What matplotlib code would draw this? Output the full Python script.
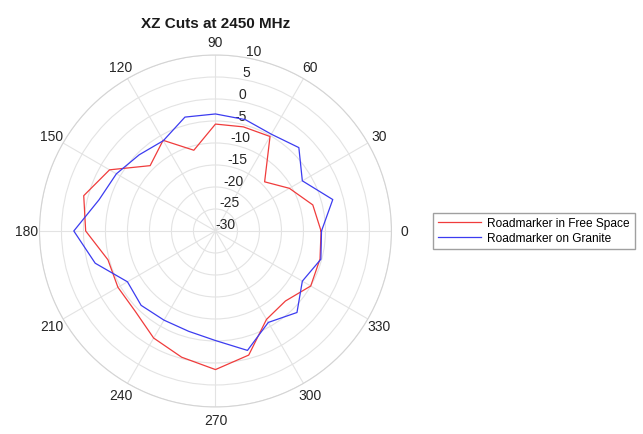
import numpy as np
import matplotlib
matplotlib.use("Agg")
import matplotlib.pyplot as plt

plt.rcParams['font.family'] = ['Liberation Sans', 'DejaVu Sans']

# angles in degrees, gain in dB
angles = [0, 15, 30, 45, 60, 75, 90, 105, 120, 135, 150, 165, 180,
          195, 210, 225, 240, 255, 270, 285, 300, 315, 330, 345, 360]
free_space = [-6.0, -7.1, -10.6, -14.2, -5.2, -5.5, -5.7, -11.0, -6.2, -9.0, -2.2, 1.0, -0.5,
              -4.7, -4.4, -4.2, -1.9, -0.3, 1.5, -0.8, -6.8, -7.5, -5.0, -5.4, -6.0]
granite = [-5.9, -2.4, -7.2, -3.2, -4.6, -3.8, -3.4, -3.2, -6.3, -5.5, -4.0, -2.6, 2.2,
           -1.7, -6.9, -6.1, -6.6, -6.4, -5.1, -1.9, -6.0, -3.8, -7.2, -5.2, -5.9]

r_ticks = [-30, -25, -20, -15, -10, -5, 0, 5, 10]
theta_ticks = [0, 30, 60, 90, 120, 150, 180, 210, 240, 270, 300, 330]

fig = plt.figure(figsize=(6.43, 4.35), dpi=100)
ax = fig.add_axes([0.0614, 0.0621, 0.5474, 0.8092], projection='polar')

th = np.deg2rad(angles)
ax.plot(th, free_space, color='#f03c3c', lw=0.9, label='Roadmarker in Free Space')
ax.plot(th, granite, color='#3c3cf0', lw=0.9, label='Roadmarker on Granite')

ax.set_ylim(-30, 10)
ax.set_yticks(r_ticks)
ax.set_yticklabels([str(v) for v in r_ticks])
ax.set_rlabel_position(80)
ax.set_thetagrids(theta_ticks, [str(v) for v in theta_ticks])
ax.grid(True, color='#e3e3e3', lw=0.8)
ax.spines['polar'].set_color('#d4d4d4')
ax.tick_params(axis='both', labelsize=10, colors='#262626')
ax.tick_params(axis='x', pad=-1)

ax.set_title('XZ Cuts at 2450 MHz', fontsize=11, fontweight='bold', color='#1a1a1a', pad=20)

fig.legend(loc='center left', bbox_to_anchor=(0.674, 0.467), fontsize=8.6,
           frameon=True, fancybox=False, edgecolor='#a0a0a0', framealpha=1,
           handlelength=3.6, handletextpad=0.5, borderpad=0.4, labelspacing=0.25,
           borderaxespad=0)

fig.savefig('out.png', dpi=100)
